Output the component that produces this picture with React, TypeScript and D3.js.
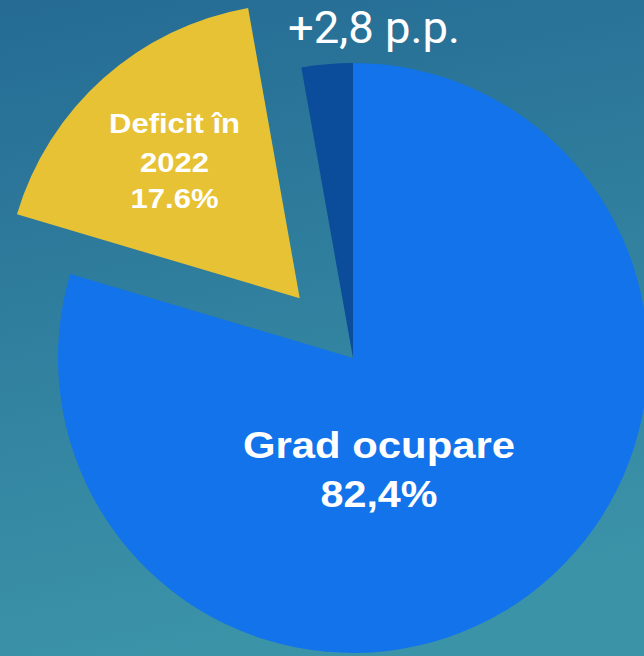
import React from "react";
import * as d3 from "d3";

const labels = ["Grad ocupare", "Deficit în", "+2,8 p.p."];
const yearLabel = "2022";
const values = [79.6, 17.6, 2.8];
const colors = ["#1273ea", "#e6c234", "#0b4c9b"];
const exploded = [0, 80, 0];

const W = 644;
const H = 656;

const App = () => {
  const cx = 353;
  const cy = 358;
  const r = 295;

  const pie = d3.pie<number>().sort(null).value((d) => d);
  const slices = pie(values);
  const arc = d3.arc<d3.PieArcDatum<number>>().innerRadius(0).outerRadius(r);

  const offset = (s: d3.PieArcDatum<number>, dist: number) => {
    const mid = (s.startAngle + s.endAngle) / 2;
    return [Math.sin(mid) * dist, -Math.cos(mid) * dist];
  };

  // yellow label sits along the slice's mid angle, after the explode offset
  const [yx, yy] = offset(slices[1], exploded[1]);
  const [lx, ly] = offset(slices[1], 188);
  const yLabelX = cx + yx + lx;
  const yLabelY = cy + yy + ly;

  return (
    <svg
      width={W}
      height={H}
      style={{ position: "absolute", left: 0, top: 0, display: "block" }}
    >
      <defs>
        <linearGradient id="bg" x1="0" y1="0" x2="0.2" y2="1">
          <stop offset="0" stopColor="#256b94" />
          <stop offset="1" stopColor="#3b93a8" />
        </linearGradient>
      </defs>
      <rect width={W} height={H} fill="url(#bg)" />
      <g transform={`translate(${cx},${cy})`}>
        {slices.map((s, i) => {
          const [dx, dy] = offset(s, exploded[i]);
          return (
            <path
              key={labels[i]}
              d={arc(s) || ""}
              fill={colors[i]}
              transform={`translate(${dx},${dy})`}
            />
          );
        })}
      </g>
      <g
        fill="#fff"
        fontFamily="'Liberation Sans', Arial, sans-serif"
        fontWeight="bold"
        textAnchor="middle"
      >
        <text y={yLabelY - 25} fontSize={28}>
          <tspan x={yLabelX} textLength={131} lengthAdjust="spacingAndGlyphs">
            {labels[1]}
          </tspan>
          <tspan x={yLabelX} dy={39} textLength={69} lengthAdjust="spacingAndGlyphs">
            {yearLabel}
          </tspan>
          <tspan x={yLabelX} dy={36} textLength={88} lengthAdjust="spacingAndGlyphs">
            {`${values[1].toFixed(1)}%`}
          </tspan>
        </text>
        <text y={458} fontSize={37}>
          <tspan x={379} textLength={272} lengthAdjust="spacingAndGlyphs">
            {labels[0]}
          </tspan>
          <tspan x={379} dy={49} textLength={117} lengthAdjust="spacingAndGlyphs">
            {`${(values[0] + values[2]).toFixed(1).replace(".", ",")}%`}
          </tspan>
        </text>
      </g>
      <text
        x={288}
        y={43}
        fill="#fff"
        fontFamily="Roboto, sans-serif"
        fontSize={44}
        textLength={172}
        lengthAdjust="spacingAndGlyphs"
      >
        {labels[2]}
      </text>
    </svg>
  );
};

export default App;
